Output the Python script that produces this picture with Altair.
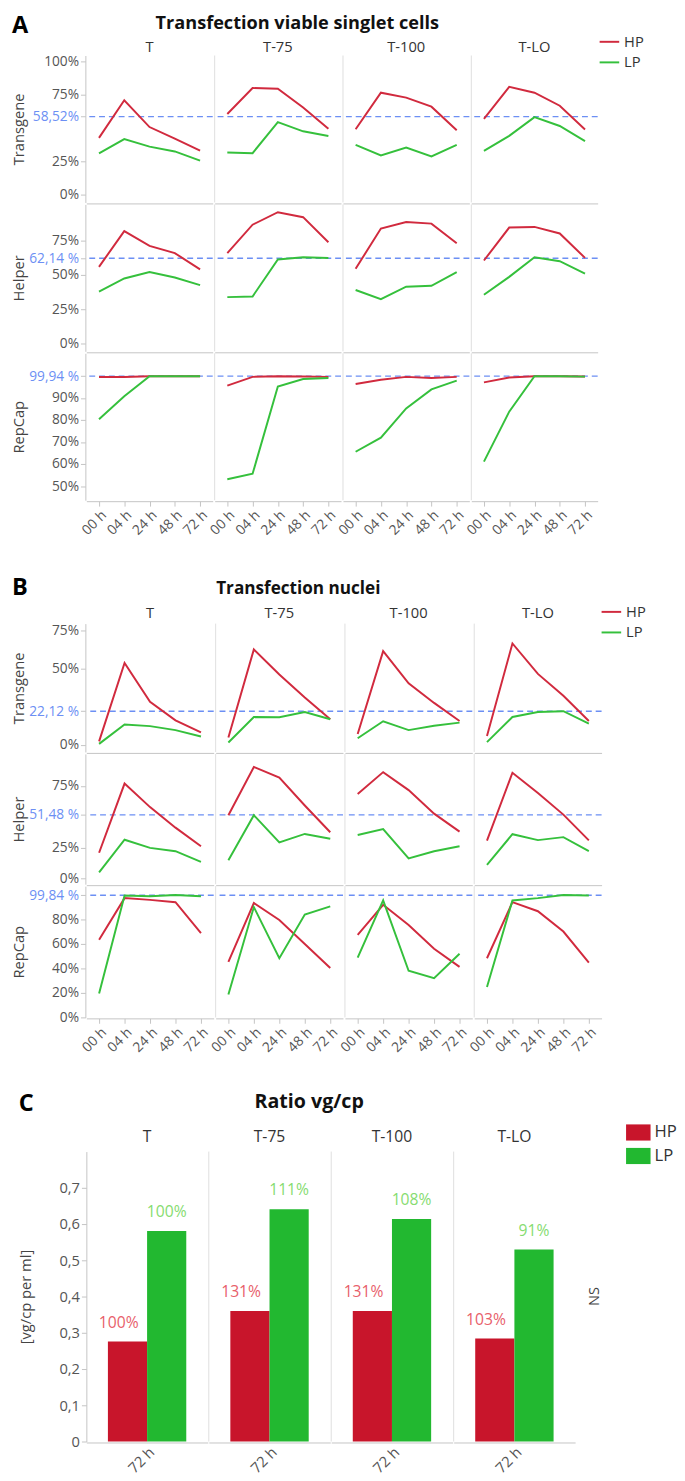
import altair as alt
import pandas as pd

PANELS = ["T", "T-75", "T-100", "T-LO"]
TIMES = ["00 h", "04 h", "24 h", "48 h", "72 h"]
SERIES = ["HP", "LP"]

# ---- A: Transfection viable singlet cells (fractions) ----
A_TRANS_HP = {"T": [0.426, 0.708, 0.507, 0.42, 0.33], "T-75": [0.605, 0.80, 0.794, 0.654, 0.495],
              "T-100": [0.49, 0.765, 0.728, 0.66, 0.483], "T-LO": [0.569, 0.809, 0.765, 0.667, 0.488]}
A_TRANS_LP = {"T": [0.31, 0.417, 0.36, 0.324, 0.255], "T-75": [0.316, 0.311, 0.544, 0.475, 0.44],
              "T-100": [0.373, 0.294, 0.353, 0.287, 0.373], "T-LO": [0.328, 0.441, 0.581, 0.515, 0.402]}
A_HELP_HP = {"T": [0.559, 0.819, 0.712, 0.659, 0.54], "T-75": [0.659, 0.866, 0.957, 0.921, 0.738],
             "T-100": [0.545, 0.838, 0.886, 0.874, 0.731], "T-LO": [0.605, 0.845, 0.85, 0.802, 0.624]}
A_HELP_LP = {"T": [0.379, 0.474, 0.521, 0.481, 0.426], "T-75": [0.338, 0.343, 0.612, 0.629, 0.624],
             "T-100": [0.39, 0.324, 0.414, 0.421, 0.521], "T-LO": [0.355, 0.486, 0.629, 0.60, 0.509]}
A_REP_HP = {"T": [0.995, 0.995, 0.999, 0.999, 0.999], "T-75": [0.956, 0.996, 0.999, 0.998, 0.996],
            "T-100": [0.964, 0.983, 0.996, 0.991, 0.996], "T-LO": [0.971, 0.993, 0.999, 0.999, 0.998]}
A_REP_LP = {"T": [0.804, 0.908, 0.999, 0.999, 0.999], "T-75": [0.531, 0.556, 0.952, 0.986, 0.991],
            "T-100": [0.656, 0.72, 0.853, 0.939, 0.979], "T-LO": [0.611, 0.838, 0.999, 0.999, 0.997]}

# ---- B: Transfection nuclei (fractions) ----
B_TRANS_HP = {"T": [0.024, 0.537, 0.284, 0.162, 0.083], "T-75": [0.049, 0.626, 0.462, 0.312, 0.169],
              "T-100": [0.073, 0.615, 0.404, 0.276, 0.158], "T-LO": [0.06, 0.665, 0.466, 0.323, 0.158]}
B_TRANS_LP = {"T": [0.008, 0.135, 0.124, 0.098, 0.056], "T-75": [0.017, 0.184, 0.182, 0.216, 0.169],
              "T-100": [0.045, 0.156, 0.098, 0.126, 0.147], "T-LO": [0.019, 0.184, 0.216, 0.222, 0.141]}
B_HELP_HP = {"T": [0.207, 0.769, 0.578, 0.411, 0.26], "T-75": [0.512, 0.904, 0.817, 0.591, 0.374],
             "T-100": [0.684, 0.862, 0.716, 0.525, 0.379], "T-LO": [0.305, 0.857, 0.692, 0.517, 0.308]}
B_HELP_LP = {"T": [0.048, 0.313, 0.247, 0.22, 0.133], "T-75": [0.146, 0.512, 0.292, 0.36, 0.321],
             "T-100": [0.352, 0.40, 0.162, 0.22, 0.26], "T-LO": [0.109, 0.358, 0.31, 0.334, 0.22]}
B_REP_HP = {"T": [0.635, 0.974, 0.96, 0.941, 0.688], "T-75": [0.454, 0.934, 0.795, 0.60, 0.403],
            "T-100": [0.674, 0.92, 0.755, 0.56, 0.413], "T-LO": [0.483, 0.941, 0.867, 0.701, 0.448]}
B_REP_LP = {"T": [0.195, 0.995, 0.989, 1.0, 0.989], "T-75": [0.187, 0.901, 0.483, 0.84, 0.907],
            "T-100": [0.488, 0.955, 0.381, 0.32, 0.52], "T-LO": [0.248, 0.955, 0.974, 1.0, 0.995]}

ROW_NAMES = ["Transgene", "Helper", "RepCap"]
A_REFS = [0.5852, 0.6214, 0.9994]
A_REF_LABELS = ["58,52%", "62,14 %", "99,94 %"]
A_TICKS = [[0, 0.25, 0.5852, 0.75, 1.0], [0, 0.25, 0.5, 0.6214, 0.75], [0.5, 0.6, 0.7, 0.8, 0.9, 0.9994]]
A_DOMAINS = [[-0.059, 1.044], [-0.057, 1.014], [0.436, 1.103]]
B_REFS = [0.2212, 0.5148, 0.9984]
B_REF_LABELS = ["22,12 %", "51,48 %", "99,84 %"]
B_TICKS = [[0, 0.2212, 0.5, 0.75], [0, 0.25, 0.5148, 0.75], [0, 0.2, 0.4, 0.6, 0.8, 0.9984]]
B_DOMAINS = [[-0.045, 0.795], [-0.048, 1.01], [0.0, 1.072]]

# ---- C: Ratio vg/cp ----
C_TIME = "72 h"
C_HP = [0.276, 0.36, 0.36, 0.284]
C_LP = [0.581, 0.641, 0.614, 0.53]
C_HP_PCT = ["100%", "131%", "131%", "103%"]
C_LP_PCT = ["100%", "111%", "108%", "91%"]
C_SIG = "NS"
C_TICKS = [0, 0.1, 0.2, 0.3, 0.4, 0.5, 0.6, 0.7]

LINE_RED = "#d12a3e"
LINE_GREEN = "#35c03c"
BAR_RED = "#c8152b"
BAR_GREEN = "#22b830"
TXT_RED = "#e8606b"
TXT_GREEN = "#86dc70"
REF_BLUE = "#6c8ff4"
AXIS_GRAY = "#c4c4c4"
SEP_GRAY = "#dedede"
LABEL_GRAY = "#555555"
FONT = "Open Sans"


def line_df(hp, lp, ref):
    recs = []
    for p in PANELS:
        for s, src in (("HP", hp), ("LP", lp)):
            for t, v in zip(TIMES, src[p]):
                recs.append({"panel": p, "time": t, "series": s, "value": v, "ref": ref})
    return pd.DataFrame(recs)


def line_row(df, name, domain, ticks, ref, ref_label, height, width, top_title, opts, bottom):
    test = f"abs(datum.value - {ref}) < 0.00001"
    yaxis = alt.Axis(values=ticks,
                     labelExpr=f"{test} ? '{ref_label}' : format(datum.value, '.0%')",
                     labelColor={"condition": {"test": test, "value": REF_BLUE}, "value": LABEL_GRAY},
                     title=name, titleX=-60, titleFontSize=15, titleFontWeight="normal", titleColor="#444",
                     labelFontSize=14, grid=False, domainColor=AXIS_GRAY, tickColor=AXIS_GRAY,
                     tickSize=5, labelPadding=2)
    yscale = alt.Scale(domain=domain, nice=False, zero=False)
    xaxis = alt.Axis(title=None, labels=bottom, ticks=bottom, labelAngle=315, labelFontSize=14,
                     labelColor=LABEL_GRAY, domainColor=AXIS_GRAY, tickColor=AXIS_GRAY, tickSize=5,
                     labelPadding=2)
    x = alt.X("time:O", sort=TIMES, scale=alt.Scale(padding=0.5), axis=xaxis)
    color = alt.Color("series:N", scale=alt.Scale(domain=SERIES, range=[LINE_RED, LINE_GREEN]),
                      legend=alt.Legend(title=None, symbolType="stroke", symbolSize=400, symbolStrokeWidth=2,
                                        labelFontSize=15, labelColor="#333", orient="none",
                                        legendX=opts["legx"], legendY=opts["legy"], rowPadding=2))
    sep = alt.Chart().transform_filter(
        f"datum.panel != '{PANELS[0]}' && datum.time == '{TIMES[0]}' && datum.series == '{SERIES[0]}'"
    ).mark_rule(color=SEP_GRAY, strokeWidth=1).encode(x=alt.value(0), y=alt.value(0), y2=alt.value(height))
    refl = alt.Chart().mark_rule(color=REF_BLUE, strokeDash=[6, 4], strokeWidth=1.5).encode(
        y=alt.Y("ref:Q", aggregate="mean", scale=yscale, axis=yaxis))
    lines = alt.Chart().mark_line(strokeWidth=2).encode(
        x=x, y=alt.Y("value:Q", scale=yscale, axis=yaxis), color=color)
    layer = alt.layer(sep, refl, lines, data=df).properties(width=width, height=height)
    if top_title:
        col = alt.Column("panel:N", sort=PANELS, title=None,
                         header=alt.Header(labelFontSize=15, labelColor="#333", labelPadding=opts["hpad"]))
    else:
        col = alt.Column("panel:N", sort=PANELS, title=None, header=None)
    fc = layer.facet(column=col, spacing=0)
    if top_title:
        fc = fc.properties(title=alt.Title(top_title, fontSize=opts["tfs"], fontWeight="bold", anchor="middle",
                                           dx=opts["tdx"], offset=opts["toff"], color="#111"))
    return fc


def section(letter, title, hps, lps, refs, ref_labels, ticks, domains, heights, width, opts):
    rows = []
    for i in range(3):
        df = line_df(hps[i], lps[i], refs[i])
        rows.append(line_row(df, ROW_NAMES[i], domains[i], ticks[i], refs[i], ref_labels[i], heights[i],
                             width, title if i == 0 else None, opts, i == 2))
    return alt.vconcat(*rows, spacing=0).properties(
        title=alt.Title(letter, anchor="start", frame="bounds", fontSize=24, fontWeight="bold",
                        offset=opts["loff"], color="#000"))


secA = section("A", "Transfection viable singlet cells", [A_TRANS_HP, A_HELP_HP, A_REP_HP],
               [A_TRANS_LP, A_HELP_LP, A_REP_LP], A_REFS, A_REF_LABELS, A_TICKS, A_DOMAINS,
               [150, 150, 150], 129,
               {"tfs": 18.5, "tdx": -8, "toff": 8, "hpad": 0, "loff": -24, "legx": 523, "legy": -25})
secB = section("B", "Transfection nuclei", [B_TRANS_HP, B_HELP_HP, B_REP_HP],
               [B_TRANS_LP, B_HELP_LP, B_REP_LP], B_REFS, B_REF_LABELS, B_TICKS, B_DOMAINS,
               [131, 133, 134], 130,
               {"tfs": 17.5, "tdx": -9, "toff": 9, "hpad": 2, "loff": -20, "legx": 525, "legy": -23})

# ---- C chart ----
recs = []
for i, p in enumerate(PANELS):
    recs.append({"panel": p, "time": C_TIME, "series": "HP", "value": C_HP[i], "pct": C_HP_PCT[i], "sig": C_SIG})
    recs.append({"panel": p, "time": C_TIME, "series": "LP", "value": C_LP[i], "pct": C_LP_PCT[i], "sig": C_SIG})
dfC = pd.DataFrame(recs)

C_H = 296
bar_x = alt.X("time:N", scale=alt.Scale(paddingInner=0, paddingOuter=0.275),
              axis=alt.Axis(title=None, labelAngle=315, ticks=False, labelFontSize=15, labelColor=LABEL_GRAY,
                            domainColor=AXIS_GRAY, labelPadding=2))
xoff = alt.XOffset("series:N", sort=SERIES, scale=alt.Scale(domain=SERIES, paddingInner=0, paddingOuter=0))
yC = alt.Y("value:Q", scale=alt.Scale(domain=[0, 0.8], nice=False),
           axis=alt.Axis(values=C_TICKS,
                         labelExpr="datum.value == 0 ? '0' : replace(format(datum.value, '.1f'), '.', ',')",
                         title="[vg/cp per ml]", titleX=-54, titleFontSize=15, titleFontWeight="normal",
                         titleColor="#444", labelFontSize=15, labelColor=LABEL_GRAY, grid=False,
                         domainColor=AXIS_GRAY, tickColor=AXIS_GRAY, tickSize=5, labelPadding=2))
sepC = alt.Chart().transform_filter(
    f"datum.panel != '{PANELS[0]}' && datum.series == '{SERIES[0]}'"
).mark_rule(color=SEP_GRAY, strokeWidth=1).encode(x=alt.value(0), y=alt.value(0), y2=alt.value(C_H))
bars = alt.Chart().mark_bar().encode(
    x=bar_x, xOffset=xoff, y=yC,
    color=alt.Color("series:N", scale=alt.Scale(domain=SERIES, range=[BAR_RED, BAR_GREEN]),
                    legend=alt.Legend(title=None, symbolType="M-1,-0.66H1V0.66H-1Z", symbolSize=625,
                                      symbolStrokeWidth=0, labelFontSize=17, labelColor="#333",
                                      orient="none", legendX=551, legendY=-32, rowPadding=3)))
hp_txt = alt.Chart().transform_filter("datum.series == 'HP'").mark_text(
    baseline="bottom", dy=-11, dx=-9, fontSize=16, color=TXT_RED).encode(x=bar_x, xOffset=xoff, y=yC, text="pct:N")
lp_txt = alt.Chart().transform_filter("datum.series == 'LP'").mark_text(
    baseline="bottom", dy=-11, fontSize=16, color=TXT_GREEN).encode(x=bar_x, xOffset=xoff, y=yC, text="pct:N")
layerC = alt.layer(sepC, bars, hp_txt, lp_txt, data=dfC).properties(width=124, height=C_H)
fcC = layerC.facet(
    column=alt.Column("panel:N", sort=PANELS, title=None,
                      header=alt.Header(labelFontSize=16, labelColor="#333", labelPadding=6)),
    row=alt.Row("sig:N", title=None,
                header=alt.Header(labelOrient="right", labelAngle=270, labelFontSize=15, labelColor="#444",
                                  labelPadding=12)),
    spacing=0).properties(title=alt.Title("Ratio vg/cp", fontSize=20, fontWeight="bold", anchor="middle",
                                          dx=-1, offset=17, color="#111"))
secC = alt.vconcat(fcC).properties(
    title=alt.Title("C", anchor="start", frame="bounds", fontSize=24, fontWeight="bold", offset=-24, color="#000"))

top = alt.vconcat(secA, secB, spacing=39).resolve_scale(color="independent")
chart = alt.vconcat(top, secC, spacing=39).resolve_scale(color="independent").properties(
    padding={"left": 4, "right": 0, "top": -10, "bottom": 0}
).configure(font=FONT).configure_view(stroke=None)

chart.save("out.html", embed_options={"renderer": "svg", "actions": False})
